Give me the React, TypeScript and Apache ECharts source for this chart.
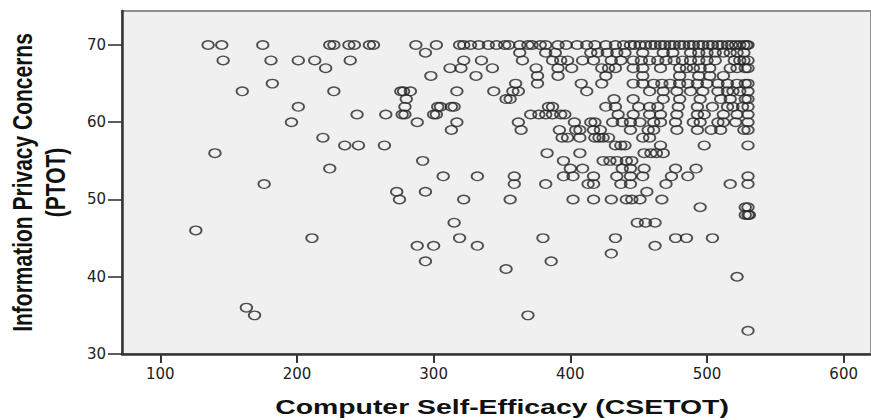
import React, { useEffect, useRef } from "react";
import * as echarts from "echarts";

const xTicks = [100, 200, 300, 400, 500, 600];
const yTicks = [30, 40, 50, 60, 70];
const xTitle = "Computer Self-Efficacy (CSETOT)";
const yTitle = "Information Privacy Concerns\n(PTOT)";

// PTOT levels and the CSETOT scores observed at each level
const ptotLevels = [70, 69, 68, 67, 66, 65, 64, 63, 62, 61, 60, 59, 58, 57, 56, 55, 54, 53, 52, 51, 50, 49, 48, 47, 46, 45, 44, 43, 42, 41, 40, 36, 35, 33];

const cse70 = [135, 145, 175, 224, 227, 238, 242, 253, 256, 287, 302, 319, 322, 327, 333, 340, 346, 352, 355, 363, 369, 372, 378, 382, 391, 397, 405, 412, 418, 426, 433, 439, 444, 447, 451, 455, 459, 462, 466, 469, 473, 476, 480, 483, 487, 490, 494, 497, 501, 504, 508, 511, 515, 518, 521, 524, 527, 529, 530];
const cse69 = [294, 363, 382, 389, 415, 420, 427, 434, 440, 453, 468, 475, 488, 494, 500, 506, 512, 517, 522, 527];
const cse68 = [146, 181, 201, 213, 239, 322, 335, 365, 387, 393, 398, 409, 417, 430, 437, 446, 452, 458, 464, 470, 476, 482, 488, 494, 500, 506, 520, 524, 527, 530];
const cse67 = [221, 312, 320, 343, 375, 391, 401, 423, 428, 433, 446, 453, 466, 480, 485, 490, 495, 502, 517, 522, 528, 530];
const cse66 = [298, 331, 376, 391, 426, 453, 480, 494, 502, 512];
const cse65 = [182, 360, 376, 408, 423, 446, 453, 461, 467, 473, 480, 486, 493, 500, 508, 515, 522, 528, 530];
const cse64 = [160, 227, 276, 278, 283, 317, 344, 358, 362, 412, 458, 468, 478, 488, 497, 508, 515, 519, 524, 530];
const cse63 = [280, 353, 356, 432, 446, 468, 480, 495, 510, 517, 528, 530];
const cse62 = [201, 279, 303, 305, 313, 315, 384, 387, 426, 433, 450, 458, 464, 479, 493, 504, 515, 519, 526, 530];
const cse61 = [244, 265, 277, 279, 300, 302, 371, 377, 382, 387, 393, 396, 435, 446, 458, 466, 478, 493, 498, 512, 522, 530];
const cse60 = [196, 288, 317, 362, 403, 415, 418, 431, 438, 444, 451, 461, 466, 477, 490, 495, 508, 512, 521, 530];
const cse59 = [313, 364, 392, 404, 407, 417, 422, 444, 457, 461, 478, 493, 503, 510, 527, 530];
const cse58 = [219, 394, 398, 407, 418, 421, 424, 428, 453, 458];
const cse57 = [235, 245, 264, 433, 437, 440, 466, 498, 530];
const cse56 = [140, 383, 407, 454, 459, 463, 468];
const cse55 = [292, 395, 424, 429, 434, 441, 445];
const cse54 = [224, 400, 409, 438, 444, 454, 477, 492];
const cse53 = [307, 332, 359, 395, 402, 417, 434, 444, 453, 474, 486, 530];
const cse52 = [176, 359, 382, 413, 417, 437, 444, 470, 517, 530];
const cse51 = [273, 294, 456];
const cse50 = [275, 322, 356, 402, 417, 430, 441, 445, 451, 467];
const cse49 = [495, 528, 530];
const cse48 = [528, 530, 531];
const cse47 = [315, 449, 455, 462];
const cse46 = [126];
const cse45 = [211, 319, 380, 433, 477, 485, 504];
const cse44 = [288, 300, 332, 462];
const cse43 = [430];
const cse42 = [294, 386];
const cse41 = [353];
const cse40 = [522];
const cse36 = [163];
const cse35 = [169, 369];
const cse33 = [530];

const csetotByLevel = [cse70, cse69, cse68, cse67, cse66, cse65, cse64, cse63, cse62, cse61, cse60, cse59, cse58, cse57, cse56, cse55, cse54, cse53, cse52, cse51, cse50, cse49, cse48, cse47, cse46, cse45, cse44, cse43, cse42, cse41, cse40, cse36, cse35, cse33];

export default function App() {
  const ref = useRef<HTMLDivElement>(null);

  useEffect(() => {
    const chart = echarts.init(ref.current as HTMLDivElement, null, { renderer: "svg" });
    const points: number[][] = [];
    ptotLevels.forEach((p, i) => {
      csetotByLevel[i].forEach((c) => points.push([c, p]));
    });

    const axisColor = "#353535";

    chart.setOption({
      animation: false,
      backgroundColor: "#ffffff",
      grid: {
        left: 122,
        right: -2,
        top: 11,
        bottom: 66,
        show: true,
        backgroundColor: "#f0f0f0",
        borderColor: "#8e8e8e",
        borderWidth: 2,
      },
      xAxis: {
        type: "value",
        min: 72,
        max: 620,
        splitLine: { show: false },
        axisLine: { show: true, onZero: false, lineStyle: { color: axisColor, width: 2.5 } },
        axisTick: { show: true, length: 9, customValues: xTicks, lineStyle: { color: axisColor, width: 2 } },
        axisLabel: {
          customValues: xTicks,
          margin: 12,
          fontFamily: "DejaVu Sans",
          fontSize: 15,
          color: "#222",
        },
      },
      yAxis: {
        type: "value",
        min: 30,
        max: 74.4,
        splitLine: { show: false },
        axisLine: { show: true, onZero: false, lineStyle: { color: axisColor, width: 2.5 } },
        axisTick: { show: true, length: 14, customValues: yTicks, lineStyle: { color: axisColor, width: 1.6 } },
        axisLabel: {
          customValues: yTicks,
          margin: 16,
          fontFamily: "DejaVu Sans",
          fontSize: 15,
          color: "#222",
        },
      },
      series: [
        {
          type: "scatter",
          data: points,
          symbol: "circle",
          symbolSize: [11.5, 8.5],
          itemStyle: { color: "rgba(0,0,0,0)", borderColor: "#262626", borderWidth: 1.6 },
          emphasis: { disabled: true },
        },
      ],
      graphic: [
        {
          type: "text",
          x: 39,
          y: 182.5,
          rotation: Math.PI / 2,
          scaleY: 1.3,
          style: {
            text: yTitle,
            fill: "#111",
            font: 'bold 21px "Liberation Sans", Arial, sans-serif',
            textAlign: "center",
            textVerticalAlign: "middle",
            align: "center",
            verticalAlign: "middle",
            lineHeight: 25,
          },
        },
        {
          type: "text",
          x: 502,
          y: 407,
          scaleX: 1.42,
          style: {
            text: xTitle,
            fill: "#111",
            font: 'bold 20px "Liberation Sans", Arial, sans-serif',
            textAlign: "center",
            textVerticalAlign: "middle",
            align: "center",
            verticalAlign: "middle",
          },
        },
      ],
    });

    return () => chart.dispose();
  }, []);

  return (
    <div
      ref={ref}
      style={{ position: "fixed", left: 0, top: 0, width: 871, height: 420, background: "#fff" }}
    />
  );
}
